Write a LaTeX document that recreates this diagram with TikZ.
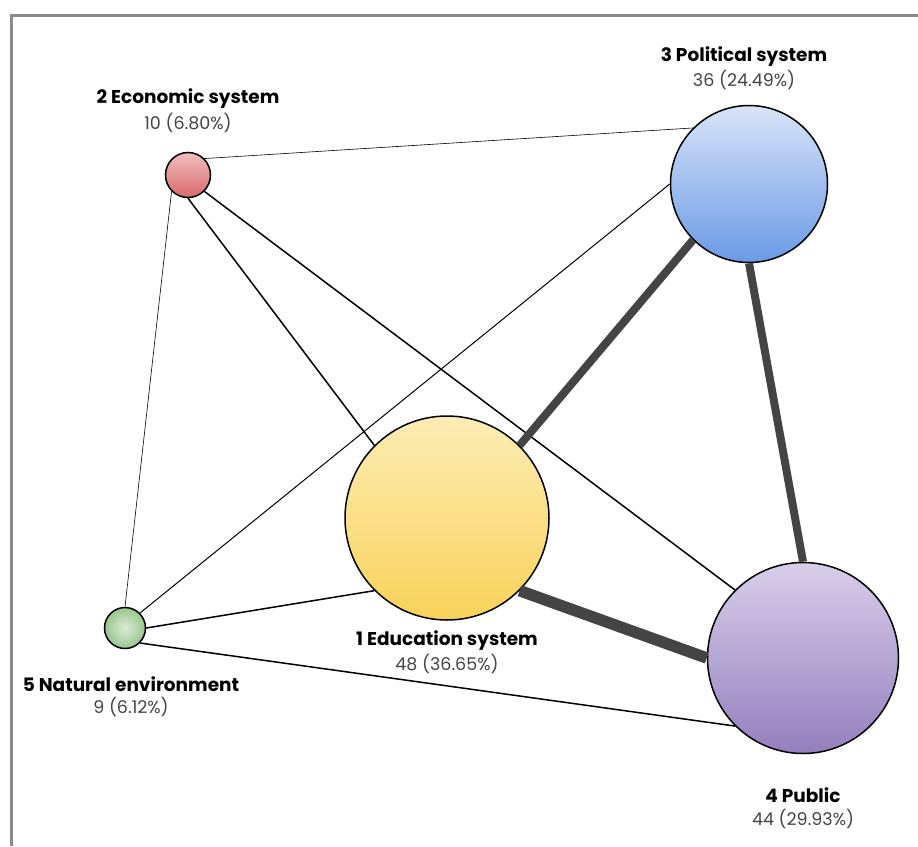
\documentclass[tikz,border=0pt]{standalone}
\usepackage{fontspec}
\setmainfont{Poppins}
\usepackage{tikz}

\definecolor{framegray}{HTML}{8A8A8A}
\definecolor{edgegray}{HTML}{444444}
\definecolor{numgray}{HTML}{444444}
\definecolor{edutop}{HTML}{FCEDB4}
\definecolor{edubot}{HTML}{F8D25A}
\definecolor{ecotop}{HTML}{F0BEBE}
\definecolor{ecobot}{HTML}{D9696B}
\definecolor{poltop}{HTML}{D8E4F8}
\definecolor{polbot}{HTML}{6A9AE6}
\definecolor{pubtop}{HTML}{D8CEE9}
\definecolor{pubbot}{HTML}{947FBE}
\definecolor{natin}{HTML}{DCECD4}
\definecolor{natout}{HTML}{98C68E}

\begin{document}
\begin{tikzpicture}[x=1pt,y=-1pt,
    topic/.style={circle, draw=black, line width=1.5pt, inner sep=0pt},
    topicname/.style={font=\fontsize{18.5}{20}\selectfont\bfseries},
    topiccount/.style={font=\fontsize{17.5}{19}\selectfont, text=numgray},
    weak/.style={line width=0.6pt},
    mid/.style={line width=1.5pt},
    strong/.style={line width=8pt, draw=edgegray},
    heavy/.style={line width=11.5pt, draw=edgegray}]
            % Canvas and frame
            \useasboundingbox (0,0) rectangle (918,846);
            \draw[framegray, line width=3pt] (11,846) -- (11,15) -- (918,15);

            % Topics, sized by their counts
            \node[topic, minimum size=204pt, top color=edutop, bottom color=edubot] (edu) at (447,518) {};
            \node[topic, minimum size=45pt, top color=ecotop, bottom color=ecobot] (eco) at (188,175) {};
            \node[topic, minimum size=157pt, top color=poltop, bottom color=polbot] (pol) at (749,184) {};
            \node[topic, minimum size=191pt, top color=pubtop, bottom color=pubbot] (pub) at (803,658) {};
            \node[topic, minimum size=41pt, inner color=natin, outer color=natout] (nat) at (125,628) {};

            % Links between topics
            \draw[weak] (eco.north east) -- (pol.north west);
            \draw[weak] (eco.south west) -- (nat.north);
            \draw[mid] (eco.south) -- (edu.north west);
            \draw[mid] (eco.south east) -- (pub.north west);
            \draw[line width=1pt] (nat.north east) -- (pol.west);
            \draw[mid] (nat.east) -- (edu.south west);
            \draw[mid] (nat.south east) -- (pub.south west);
            \draw[strong] (edu.north east) -- (pol.south west);
            \draw[strong] (pol.south) -- (pub.north);
            \draw[heavy] (edu.south east) -- (pub.west);

            % Labels
            \node[topicname] (eduname) at (447,641) {1 Education system};
            \node[topiccount] (educount) at (447,664) {48 (36.65\%)};
            \node[topicname] (econame) at (188,99) {2 Economic system};
            \node[topiccount] (ecocount) at (188,123) {10 (6.80\%)};
            \node[topicname] (polname) at (744,57) {3 Political system};
            \node[topiccount] (polcount) at (744,80) {36 (24.49\%)};
            \node[topicname] (pubname) at (803,795) {4 Public};
            \node[topiccount] (pubcount) at (803,819) {44 (29.93\%)};
            \node[topicname] (natname) at (131,684) {5 Natural environment};
            \node[topiccount] (natcount) at (131,707) {9 (6.12\%)};
        \end{tikzpicture}
\end{document}
